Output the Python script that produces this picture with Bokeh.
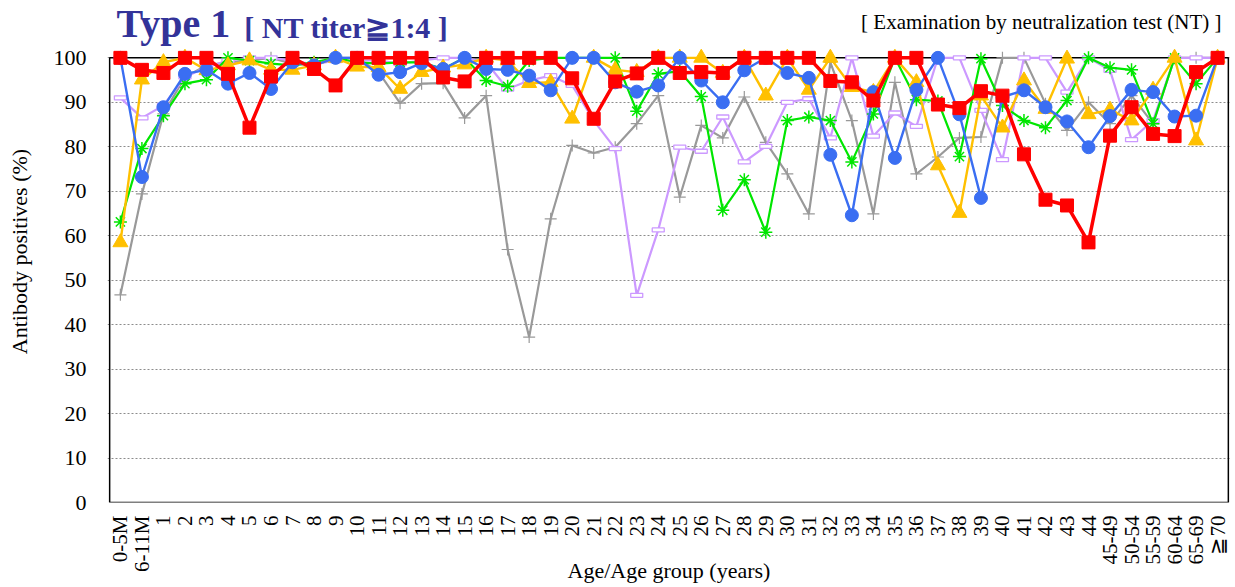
import math
from bokeh.plotting import figure
from bokeh.models import FactorRange, Range1d, FixedTicker
from bokeh.core.properties import value
from bokeh.embed import file_html
from bokeh.resources import INLINE

categories = ["0-5M", "6-11M", "1", "2", "3", "4", "5", "6", "7", "8", "9", "10",
              "11", "12", "13", "14", "15", "16", "17", "18", "19", "20",
              "21", "22", "23", "24", "25", "26", "27", "28", "29", "30",
              "31", "32", "33", "34", "35", "36", "37", "38", "39", "40",
              "41", "42", "43", "44", "45-49", "50-54", "55-59", "60-64", "65-69", "≧70"]

gray_vals = [46.7, 69.4, 87.4, 95.7, 98.3, 99.0, 99.4, 100, 98.7, 98.3,
             100, 100, 96.8, 89.8, 94.2, 94.3, 86.5, 91.5, 56.9, 37.2,
             63.8, 80.3, 78.6, 79.9, 85.2, 91.5, 68.7, 84.8, 82.0, 91.2,
             81.0, 73.9, 64.9, 99.0, 85.9, 64.9, 94.5, 73.9, 77.7, 82.0,
             82.2, 100, 100, 89.7, 83.7, 90.0, 85.2, 91.5, 85.2, 100,
             100, 100]

lavender_vals = [91.0, 86.5, 89.3, 95.7, 97.9, 99.4, 100, 100, 99.4, 98.5,
                 99.4, 99.4, 99.4, 98.7, 99.4, 100, 100, 99.0, 93.0, 94.9,
                 96.0, 93.8, 85.9, 79.6, 46.6, 61.3, 79.9, 79.0, 86.7, 76.6,
                 80.1, 90.0, 90.8, 82.0, 100, 82.4, 87.6, 84.6, 100, 100,
                 88.2, 77.1, 100, 100, 92.3, 100, 97.2, 81.6, 85.9, 100,
                 100, 100]

green_vals = [63.1, 79.6, 87.0, 94.2, 95.1, 100, 99.4, 98.7, 98.3, 99.0,
              100, 99.0, 98.7, 99.0, 99.0, 97.5, 100, 94.9, 93.6, 99.4,
              100, 100, 100, 100, 88.0, 96.4, 97.0, 91.3, 65.7, 72.6,
              60.8, 85.9, 86.7, 85.9, 76.6, 87.4, 100, 90.6, 90.3, 77.8,
              99.8, 89.3, 85.9, 84.3, 90.4, 100, 97.8, 97.3, 85.2, 100,
              94.2, 100]

yellow_vals = [58.5, 95.1, 99.0, 100, 97.2, 98.3, 99.4, 97.3, 97.3, 98.3,
               100, 98.0, 97.9, 93.0, 96.8, 97.8, 98.5, 100, 99.4, 94.3,
               94.5, 86.3, 100, 97.3, 96.8, 100, 100, 100, 96.6, 100,
               91.5, 100, 92.8, 100, 93.4, 92.3, 100, 94.5, 75.8, 65.1,
               91.5, 84.3, 94.9, 88.5, 99.8, 87.3, 88.3, 85.9, 92.8, 100,
               81.4, 100]

blue_vals = [100, 73.2, 88.9, 96.4, 97.3, 94.2, 96.6, 93.0, 99.0, 98.3,
             100, 100, 96.2, 96.8, 98.8, 97.5, 100, 97.5, 97.3, 96.0,
             92.7, 100, 100, 94.5, 92.4, 93.8, 100, 94.9, 90.0, 97.2,
             100, 96.6, 95.5, 78.2, 64.6, 92.3, 77.5, 92.8, 100, 87.3,
             68.5, 91.2, 92.7, 88.9, 85.7, 79.9, 86.9, 92.8, 92.3, 86.8,
             87.0, 100]

red_vals = [100, 97.3, 96.6, 100, 100, 96.4, 84.3, 95.8, 100, 97.5,
            93.8, 100, 100, 100, 100, 95.6, 94.7, 100, 100, 100,
            100, 95.4, 86.3, 94.7, 96.5, 100, 96.6, 96.8, 96.6, 100,
            100, 100, 100, 94.8, 94.5, 90.4, 100, 100, 89.5, 88.7,
            92.5, 91.5, 78.3, 68.1, 66.8, 58.5, 82.5, 88.9, 82.9, 82.4,
            96.8, 100]

y_ticks = [0, 10, 20, 30, 40, 50, 60, 70, 80, 90, 100]
Y_MAX_VALUE = 100

title_main = "Type 1"
title_sub = "[ NT titer≧1:4 ]"
title_right = "[ Examination by neutralization test (NT) ]"

SERIF = "Liberation Serif"
GRAY = "#999999"
LAV = "#cc99ff"
GREEN = "#00e600"
YELLOW = "#ffc000"
BLUE = "#3a6ef2"
RED = "#ff0000"
TITLE_COLOR = "#333399"

W, H = 1235, 587
LEFT, RIGHT, BOTTOM = 107, 5, 85
FRAME_H = H - BOTTOM            # frame spans from canvas top to the x axis
PX_PER_UNIT = 4.4465            # 100 % sits ~57 px below the canvas top
Y_TOP = FRAME_H / PX_PER_UNIT   # extra head-room above 100 % holds the titles
PAD = 0.1
N = len(categories)
CAT_PX = (W - LEFT - RIGHT) / (N + PAD)


def px_to_x(px):
    return (px - LEFT) / CAT_PX - PAD / 2


def px_to_y(py):
    return (FRAME_H - py) / PX_PER_UNIT


p = figure(x_range=FactorRange(factors=categories, range_padding=PAD, range_padding_units="absolute"),
           y_range=Range1d(0, Y_TOP),
           width=W, height=H, output_backend="svg", toolbar_location=None,
           min_border_left=LEFT, min_border_right=RIGHT, min_border_top=0, min_border_bottom=BOTTOM,
           background_fill_color="white", border_fill_color="white")

p.outline_line_color = None
p.xgrid.grid_line_color = None
p.ygrid.grid_line_color = "#8c8c8c"
p.ygrid.grid_line_dash = "2 2"
p.ygrid.grid_line_width = 1

p.yaxis.ticker = FixedTicker(ticks=y_ticks)
for ax in (p.xaxis, p.yaxis):
    ax.axis_line_color = None
    ax.major_tick_line_color = None
    ax.minor_tick_line_color = None
    ax.major_tick_out = 0
    ax.major_tick_in = 0
    ax.major_label_text_font = SERIF
    ax.major_label_text_color = "black"
    ax.axis_label_text_font = SERIF
    ax.axis_label_text_color = "black"
    ax.axis_label_text_font_style = "normal"
    ax.axis_label_text_font_size = "22px"

p.yaxis.major_label_text_font_size = "22px"
p.yaxis.major_label_standoff = 21
p.yaxis.axis_label = "Antibody positives (%)"
p.yaxis.axis_label_standoff = 19

p.xaxis.major_label_orientation = math.pi / 2
p.xaxis.major_label_text_font_size = "21px"
p.xaxis.major_label_standoff = 13
p.xaxis.axis_label = "Age/Age group (years)"
p.xaxis.axis_label_standoff = -17

# plot box (0..100 %), drawn under the series
p.quad(left=[0], right=[N], bottom=[0], top=[Y_MAX_VALUE], fill_color=None,
       line_color="black", line_width=1.5)

# series: line then markers
p.line(categories, gray_vals, line_color=GRAY, line_width=2.2)
p.scatter(categories, gray_vals, marker="cross", size=12, line_color=GRAY, line_width=1.2)

p.line(categories, lavender_vals, line_color=LAV, line_width=2.2)
p.rect(categories, lavender_vals, width=12, height=4, width_units="screen", height_units="screen",
       fill_color="white", line_color=LAV, line_width=1.3)

p.line(categories, green_vals, line_color=GREEN, line_width=2.2)
p.scatter(categories, green_vals, marker="asterisk", size=13, line_color=GREEN, line_width=1.5)

p.line(categories, yellow_vals, line_color=YELLOW, line_width=2.4)
p.scatter(categories, yellow_vals, marker="triangle", size=15, fill_color=YELLOW, line_color=YELLOW)

p.line(categories, blue_vals, line_color=BLUE, line_width=2.4)
p.scatter(categories, blue_vals, marker="circle", size=13, fill_color=BLUE, line_color=BLUE)

p.line(categories, red_vals, line_color=RED, line_width=3.5)
p.scatter(categories, red_vals, marker="square", size=13, fill_color=RED, line_color=RED)

# titles (inside the head-room above 100 %)
p.text(x=[px_to_x(115)], y=[px_to_y(37 - 0.34 * 40)], text=[title_main], text_font=value(SERIF),
       text_font_style="bold", text_font_size="40px", text_color=TITLE_COLOR,
       text_baseline="middle", text_align="left")
p.text(x=[px_to_x(243)], y=[px_to_y(37 - 0.34 * 30)], text=[title_sub], text_font=value(SERIF),
       text_font_style="bold", text_font_size="30px", text_color=TITLE_COLOR,
       text_baseline="middle", text_align="left")
p.text(x=[px_to_x(1222)], y=[px_to_y(29 - 0.34 * 21)], text=[title_right], text_font=value(SERIF),
       text_font_style="normal", text_font_size="21px", text_color="black",
       text_baseline="middle", text_align="right")

open("out.html", "w").write(file_html(p, INLINE))
